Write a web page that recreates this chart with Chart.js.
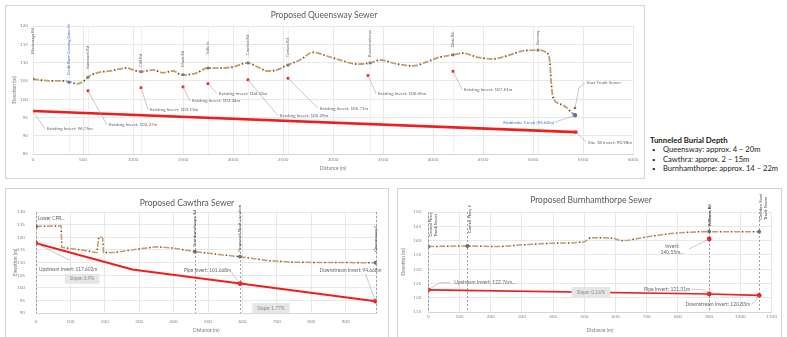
<!DOCTYPE html>
<html lang="en">
<head>
<meta charset="UTF-8">
<title>Proposed Sewer Profiles</title>
<script src="https://cdn.jsdelivr.net/npm/chart.js"></script>
<style>
body { margin: 0; width: 787px; height: 337px; overflow: hidden; background: #fff; position: relative; font-family: Lato, "Liberation Sans", sans-serif; }
canvas, .frame, .title, #notes { position: absolute; }
.frame { border: 1px solid #d4d4d4; box-sizing: border-box; pointer-events: none; }
.title { font-size: 8.5px; line-height: 10px; color: #595959; white-space: nowrap; transform: translateX(-50%); }
#notes { left: 650px; top: 136px; font-size: 7.6px; line-height: 9.3px; color: #1a1a1a; white-space: nowrap; }
#notes b { display: block; font-size: 7.8px; }
#notes span { display: inline-block; width: 9px; padding-left: 2px; font-size: 6px; }
</style>
</head>
<body>

<canvas id="queensway" width="639" height="173" style="left:5px;top:5px"></canvas>
<div class="frame" style="left:5px;top:5px;width:640px;height:174px"></div>
<div class="title" style="left:324px;top:10px">Proposed Queensway Sewer</div>

<canvas id="cawthra" width="383" height="149" style="left:5px;top:188px"></canvas>
<div class="frame" style="left:5px;top:188px;width:384px;height:160px"></div>
<div class="title" style="left:187px;top:198px">Proposed Cawthra Sewer</div>

<canvas id="burnhamthorpe" width="384" height="149" style="left:397px;top:188px"></canvas>
<div class="frame" style="left:397px;top:188px;width:385px;height:160px"></div>
<div class="title" style="left:591px;top:195px">Proposed Burnhamthorpe Sewer</div>

<div id="notes">
  <b>Tunneled Burial Depth</b>
  <div><span>•</span> Queensway: approx. 4 – 20m</div>
  <div><span>•</span> Cawthra: approx. 2 – 15m</div>
  <div><span>•</span> Burnhamthorpe: approx. 14 – 22m</div>
</div>

<script>
// ---- Queensway ----
const qDist = [0, 170, 300, 370, 440, 520, 550, 640, 770, 940, 1000, 1080, 1200, 1300, 1400, 1490, 1640, 1740, 1870, 2000, 2140, 2270, 2340, 2440, 2540, 2670, 2800, 2940, 3070, 3240, 3370, 3470, 3640, 3800, 3940, 4070, 4200, 4300, 4440, 4600, 4770, 4900, 5050, 5140, 5170, 5180, 5200, 5270, 5340, 5390, 5420];
const qGround = [105.5, 105.0, 105.0, 104.7, 104.2, 105.2, 106.0, 107.2, 107.7, 108.5, 108.0, 107.5, 108.0, 107.2, 107.7, 106.6, 107.2, 108.5, 108.5, 108.8, 109.9, 108.5, 107.7, 108.0, 109.3, 110.7, 112.8, 111.8, 110.7, 109.6, 109.9, 110.7, 109.6, 109.1, 110.2, 111.5, 112.1, 112.6, 111.5, 111.0, 112.1, 113.2, 113.4, 112.6, 109.9, 105.2, 100.6, 98.7, 97.6, 96.2, 95.62];
const qMarkDist = [0, 360, 550, 1080, 1500, 1750, 2150, 2550, 3370, 4200, 5050];
const qMarkElev = [105.5, 104.6, 106.0, 107.5, 106.7, 108.5, 109.9, 109.3, 109.9, 112.1, 113.4];
const qMarkNames = ['Mississauga Rd', 'Credit River Crossing (Lake St)', 'Stavebank Rd', 'Cliff Rd', 'Mavis Rd', 'Tedlo St', 'Cawthra Rd', 'Tomken Rd', 'Burnhamthorpe', 'Dixie Rd', 'Sherway'];
const qInvDist = [550, 1080, 1500, 1750, 2150, 2550, 3350, 4200];
const qInv = [102.27, 103.13, 103.34, 104.22, 105.29, 105.71, 106.45, 107.61];
const qTunnelDist = [0, 5430];
const qTunnel = [96.75, 90.98];
const qCreekDist = [5420];
const qCreek = [95.62];
const qTrunkDist = [5420];
const qTrunk = [97.6];
const qTicks = [0, 500, 1000, 1500, 2000, 2500, 3000, 3500, 4000, 4500, 5000, 5500, 6000];

// ---- Cawthra ----
const cDist = [0, 73, 75, 150, 177, 182, 188, 194, 196, 230, 300, 350, 400, 462, 530, 593, 670, 750, 850, 987];
const cGround = [124.3, 124.5, 116.0, 114.6, 113.9, 119.5, 120.2, 119.5, 114.0, 114.0, 115.4, 116.2, 115.7, 114.3, 113.2, 112.3, 110.8, 110.1, 110.0, 109.9];
const cMarkDist = [0, 462, 593, 987];
const cMarkElev = [124.3, 114.3, 112.3, 109.9];
const cMarkNames = ['', 'Burnhamthorpe Rd', 'Proposed Shaft Location', 'Queensway E'];
const cTunnelDist = [0, 280, 593, 987];
const cTunnel = [117.602, 107.2, 101.668, 94.668];
const cInvDist = [0, 593, 987];
const cInv = [117.602, 101.668, 94.668];
const cTicks = [0, 100, 200, 300, 400, 500, 600, 700, 800, 900];

// ---- Burnhamthorpe ----
const bDist = [0, 120, 216, 300, 409, 500, 521, 590, 621, 707, 803, 900, 1060];
const bGround = [137.9, 138.1, 137.9, 138.5, 139.1, 139.6, 141.0, 140.8, 140.0, 141.4, 142.7, 143.1, 143.1];
const bMarkDist = [0, 125, 900, 1060];
const bMarkElev = [137.9, 138.1, 143.2, 143.1];
const bMarkNames = ['Central Pkwy\nTrunk Sewer', 'Central Pkwy E', 'Williams Rd', 'Cawthra Road\nTrunk Sewer'];
const bTunnelDist = [0, 900, 1060];
const bTunnel = [122.76, 121.31, 120.83];
const bShaftDist = [900];
const bShaftInv = [140.55];
const bTicks = [0, 100, 200, 300, 400, 500, 600, 700, 800, 900, 1000, 1100];

Chart.defaults.font.family = 'Lato, "Liberation Sans", sans-serif';
Chart.defaults.animation = false;
Chart.defaults.plugins.legend.display = false;
Chart.defaults.plugins.tooltip.enabled = false;

function pts(xs, ys) { return xs.map((x, i) => ({ x: x, y: ys[i] })); }

// two overlaid dashed strokes give the brown dash-dot ground line
function groundSets(xs, ys, w, smooth) {
    const base = { data: pts(xs, ys), pointRadius: 0, borderWidth: w, tension: 0 };
    if (smooth) base.cubicInterpolationMode = 'monotone';
    return [
        Object.assign({}, base, { borderColor: '#c99a62', borderDash: [6, 5] }),
        Object.assign({}, base, { data: pts(xs, ys), borderColor: '#5e4c3a', borderDash: [1.5, 9.5], borderDashOffset: 3.25 })
    ];
}

function axes(o) {
    return {
        x: {
            type: 'linear', min: o.xMin, max: o.xMax,
            afterBuildTicks: s => {
                const t = o.xTicks.slice();
                if (t[t.length - 1] !== o.xMax) t.push(o.xMax);
                s.ticks = t.map(v => ({ value: v }));
            },
            ticks: { font: { size: 4.6 }, color: '#8a8a8a', padding: o.xTickPad, maxRotation: 0, autoSkip: false,
                     callback: v => (o.xTicks.indexOf(v) >= 0 ? v : '') },
            grid: { color: '#e2e2e2', lineWidth: 0.8, drawTicks: false },
            border: { color: '#d6d6d6' },
            title: { display: true, text: 'Distance (m)', font: { size: 4.9 }, color: '#7a7a7a', padding: { top: 0, bottom: o.xTitlePad } },
            afterFit: s => { s.height = o.xH; }
        },
        y: {
            min: o.yMin, max: o.yMax,
            ticks: { stepSize: 5, font: { size: 4.6 }, color: '#8a8a8a', padding: o.yTickPad, callback: v => v },
            grid: { color: '#e2e2e2', lineWidth: 0.8, drawTicks: false },
            border: { color: '#d6d6d6' },
            title: { display: true, text: 'Elevation (m)', font: { size: 4.9 }, color: '#7a7a7a', padding: { top: o.yTitlePad, bottom: 0 } },
            afterFit: s => { s.width = o.yW; }
        }
    };
}

const labelPlugin = {
    id: 'labels',
    beforeDatasetsDraw(chart, args, o) {
        const { ctx, chartArea: a, scales } = chart;
        ctx.save();
        ctx.lineWidth = 0.8;
        ctx.strokeStyle = o.lineColor || '#e6e6e6';
        ctx.setLineDash(o.lineDash || []);
        (o.lines || []).forEach(v => {
            const px = Math.round(scales.x.getPixelForValue(v)) + 0.5;
            ctx.beginPath();
            ctx.moveTo(px, a.top);
            ctx.lineTo(px, a.bottom);
            ctx.stroke();
        });
        ctx.restore();
    },
    afterDatasetsDraw(chart, args, o) {
        const { ctx, scales } = chart;
        const X = v => scales.x.getPixelForValue(v), Y = v => scales.y.getPixelForValue(v);
        ctx.save();
        // rotated street names above the ground points
        (o.vtexts || []).forEach(t => {
            if (!t.text) return;
            ctx.save();
            ctx.translate(X(t.x) + (t.dx || 0), Y(t.y) - t.gap);
            ctx.rotate(-Math.PI / 2);
            ctx.font = (t.bold ? 'bold ' : '') + o.vsize + 'px Lato';
            ctx.fillStyle = t.color || '#555';
            ctx.textAlign = 'left';
            ctx.textBaseline = 'middle';
            const lines = t.text.split('\n');
            lines.forEach((l, i) => ctx.fillText(l, 0, (i - (lines.length - 1) / 2) * o.vsize * 1.15));
            ctx.restore();
        });
        // callouts with leader lines
        (o.callouts || []).forEach(c => {
            const px = X(c.x), py = Y(c.y);
            if (c.path && c.path.length) {
                ctx.strokeStyle = '#a3a3a3';
                ctx.lineWidth = 0.6;
                ctx.setLineDash([]);
                ctx.beginPath();
                ctx.moveTo(px, py);
                c.path.forEach(p => ctx.lineTo(px + p[0], py + p[1]));
                ctx.stroke();
            }
            ctx.font = o.csize + 'px Lato';
            ctx.fillStyle = c.color || '#666';
            ctx.textAlign = c.align || 'left';
            ctx.textBaseline = 'middle';
            c.text.split('\n').forEach((l, i) => ctx.fillText(l, px + c.tx, py + c.ty + i * o.csize * 1.3));
        });
        // grey slope boxes
        (o.boxes || []).forEach(b => {
            const px = X(b.x), py = Y(b.y);
            ctx.font = o.csize + 'px Lato';
            const w = ctx.measureText(b.text).width + 10, h = o.csize + 5;
            ctx.fillStyle = '#e6e6e6';
            ctx.fillRect(px - w / 2, py - h / 2, w, h);
            ctx.fillStyle = '#8c8c8c';
            ctx.textAlign = 'center';
            ctx.textBaseline = 'middle';
            ctx.fillText(b.text, px, py);
        });
        ctx.restore();
    }
};

const red = '#f21c1c';

// ---------- Queensway chart ----------
const qInvOff = [[19, 34], [7, 22], [7, 14], [9, 10], [30, 36], [30, 30], [8, 18], [9, 18]];
const qCallouts = qInvDist.map((d, i) => ({
    x: d, y: qInv[i], path: [qInvOff[i]], tx: qInvOff[i][0] + 2, ty: qInvOff[i][1],
    text: 'Existing Invert: ' + qInv[i].toFixed(2) + 'm'
}));
qCallouts.push({ x: qTunnelDist[0], y: qTunnel[0], path: [[12, 18]], tx: 14, ty: 18, text: 'Existing Invert: ' + qTunnel[0].toFixed(2) + 'm' });
qCallouts.push({ x: qTunnelDist[1], y: qTunnel[1], path: [[10, 10]], tx: 12, ty: 10, text: 'Site 18 Invert: ' + qTunnel[1].toFixed(2) + 'm' });
qCallouts.push({ x: qCreekDist[0], y: qCreek[0], path: [[-20, 7]], tx: -21, ty: 7, align: 'right', color: '#4472c4', text: 'Etobicoke Creek (' + qCreek[0].toFixed(2) + 'm)' });
qCallouts.push({ x: qTrunkDist[0], y: qTrunk[0], path: [[4, -20], [10, -25]], tx: 12, ty: -25, text: 'East Trunk Sewer' });
const qGaps = [22, 4, 5, 2, 5, 10, 5, 5, 3, 5, 2];

new Chart(document.getElementById('queensway'), {
    type: 'line',
    data: {
        datasets: [
            { data: pts(qInvDist, qInv), showLine: false, pointRadius: 1.9, pointStyle: 'rect', pointBackgroundColor: red, pointBorderWidth: 0 },
            { data: pts(qCreekDist, qCreek), showLine: false, pointRadius: 2.2, pointBackgroundColor: '#4472c4', pointBorderWidth: 0 },
            { data: pts(qTrunkDist, qTrunk), showLine: false, pointRadius: 1.6, pointStyle: 'rect', pointBackgroundColor: '#666', pointBorderWidth: 0 },
            { data: pts(qMarkDist, qMarkElev), showLine: false, pointRadius: 1.9, pointStyle: 'rect', pointBorderWidth: 0,
              pointBackgroundColor: qMarkDist.map((d, i) => i === 1 ? '#4472c4' : '#7a7a7a') },
            { data: pts(qTunnelDist, qTunnel), borderColor: red, borderWidth: 2.6, pointRadius: [0, 2.2], pointStyle: 'rect', pointBackgroundColor: red, pointBorderWidth: 0 },
            ...groundSets(qDist, qGround, 1.8, true)
        ]
    },
    options: {
        responsive: false,
        layout: { padding: { left: 0, right: 11, top: 21, bottom: 0 } },
        scales: axes({ xMin: 0, xMax: 6000, xTicks: qTicks, yMin: 85, yMax: 120, xH: 24, yW: 28, xTickPad: 3, yTickPad: 5, xTitlePad: 6.5, yTitlePad: 6 }),
        plugins: {
            labels: {
                lines: qMarkDist, lineColor: '#ececec',
                vsize: 3.9, csize: 4.5,
                vtexts: qMarkNames.map((n, i) => ({ x: qMarkDist[i], y: qMarkElev[i], text: n, gap: qGaps[i] + 3, color: i === 1 ? '#4472c4' : '#6e6e6e' })),
                callouts: qCallouts
            }
        }
    },
    plugins: [labelPlugin]
});

// ---------- Cawthra chart ----------
new Chart(document.getElementById('cawthra'), {
    type: 'line',
    data: {
        datasets: [
            { data: pts(cInvDist, cInv), showLine: false, pointRadius: 2.4, pointBackgroundColor: red, pointBorderWidth: 0 },
            { data: pts(cMarkDist, cMarkElev), showLine: false, pointRadius: 1.9, pointBackgroundColor: '#6e6e6e', pointBorderWidth: 0 },
            { data: pts(cTunnelDist, cTunnel), borderColor: red, borderWidth: 2, pointRadius: 0, tension: 0 },
            ...groundSets(cDist, cGround, 1.5, false)
        ]
    },
    options: {
        responsive: false,
        layout: { padding: { left: 0, right: 11.4, top: 24, bottom: 0 } },
        scales: axes({ xMin: 0, xMax: 990, xTicks: cTicks, yMin: 90, yMax: 130, xH: 24, yW: 31, xTickPad: 6, yTickPad: 11, xTitlePad: 3.5, yTitlePad: 7.5 }),
        plugins: {
            labels: {
                lines: cMarkDist, lineColor: '#8c8c8c', lineDash: [2, 2],
                vsize: 4.4, csize: 4.8,
                vtexts: cMarkNames.map((n, i) => ({ x: cMarkDist[i], y: cMarkElev[i], text: n, gap: [4, 5, 5, 11][i], color: '#4a4a4a' })),
                callouts: [
                    { x: cMarkDist[0], y: cMarkElev[0], tx: 2, ty: -8, text: 'Lower CPR...' },
                    { x: cInvDist[0], y: cInv[0], path: [[34, 17]], tx: 3, ty: 26, text: 'Upstream Invert: ' + cInv[0].toFixed(3) + 'm' },
                    { x: cInvDist[1], y: cInv[1], path: [[-9, -12]], tx: -9, ty: -13, align: 'right', text: 'Pipe Invert: ' + cInv[1].toFixed(3) + 'm' },
                    { x: cInvDist[2], y: cInv[2], path: [[-10, -27]], tx: 6, ty: -31, align: 'right', text: 'Downstream Invert: ' + cInv[2].toFixed(3) + 'm' }
                ],
                boxes: [
                    { x: 134, y: 103.5, text: 'Slope: 3.9%' },
                    { x: 683, y: 92, text: 'Slope: 1.77%' }
                ]
            }
        }
    },
    plugins: [labelPlugin]
});

// ---------- Burnhamthorpe chart ----------
new Chart(document.getElementById('burnhamthorpe'), {
    type: 'line',
    data: {
        datasets: [
            { data: pts(bShaftDist, bShaftInv), showLine: false, pointRadius: 2.4, pointBackgroundColor: red, pointBorderWidth: 0 },
            { data: pts(bTunnelDist, bTunnel), borderColor: red, borderWidth: 1.6, pointRadius: 2.4, pointBackgroundColor: red, pointBorderWidth: 0, tension: 0 },
            { data: pts(bMarkDist, bMarkElev), showLine: false, pointRadius: 1.9, pointBackgroundColor: '#6e6e6e', pointBorderWidth: 0 },
            ...groundSets(bDist, bGround, 1.5, true)
        ]
    },
    options: {
        responsive: false,
        layout: { padding: { left: 0, right: 9.4, top: 24, bottom: 0 } },
        scales: axes({ xMin: 0, xMax: 1100, xTicks: bTicks, yMin: 115, yMax: 150, xH: 25, yW: 31.3, xTickPad: 2, yTickPad: 7, xTitlePad: 3.5, yTitlePad: 3.7 }),
        plugins: {
            labels: {
                lines: bMarkDist, lineColor: '#8c8c8c', lineDash: [2, 2],
                vsize: 4.2, csize: 5,
                vtexts: bMarkNames.map((n, i) => ({ x: bMarkDist[i], y: bMarkElev[i], text: n, gap: [10, 13, 5, 12][i], dx: [5, 2, 0, 4][i], bold: i === 2, color: '#404040' })),
                callouts: [
                    { x: bTunnelDist[0], y: bTunnel[0], path: [[11, -7], [22, -7]], tx: 26, ty: -7, text: 'Upstream Invert: ' + bTunnel[0].toFixed(2) + 'm...' },
                    { x: bTunnelDist[1], y: bTunnel[1], path: [[-6, -4], [-18, -5]], tx: -19, ty: -5, align: 'right', text: 'Pipe Invert: ' + bTunnel[1].toFixed(2) + 'm' },
                    { x: bTunnelDist[2], y: bTunnel[2], path: [[-4, 6], [-8, 9]], tx: -9, ty: 9, align: 'right', text: 'Downstream Invert: ' + bTunnel[2].toFixed(2) + 'm' },
                    { x: bShaftDist[0], y: bShaftInv[0], path: [[-20, 10]], tx: -37, ty: 7, align: 'center', text: 'Invert:\n' + bShaftInv[0].toFixed(2) + 'm...' }
                ],
                boxes: [
                    { x: 521, y: 122, text: 'Slope: 0.16%' }
                ]
            }
        }
    },
    plugins: [labelPlugin]
});
</script>
</body>
</html>
